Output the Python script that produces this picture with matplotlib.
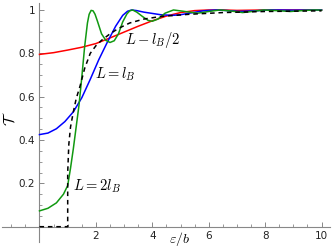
import matplotlib
matplotlib.use("Agg")
import matplotlib.pyplot as plt
from matplotlib.ticker import FixedLocator

plt.rcParams['mathtext.fontset'] = 'cm'

# --- data ---
red_x = [0, 0.5, 1.0, 1.5, 2.0, 2.5, 3.0, 3.5, 4.0, 4.5, 5.0, 5.5, 6.0, 6.5, 7.0, 8.0, 9.0, 10.0]
red_y = [0.795, 0.803, 0.815, 0.828, 0.845, 0.871, 0.898, 0.925, 0.95, 0.972, 0.988, 0.997,
         1.0, 1.0, 0.998, 1.0, 1.0, 1.0]

blue_x = [0, 0.3, 0.6, 0.9, 1.2, 1.5, 1.8, 2.1, 2.4, 2.7, 2.95, 3.12, 3.27, 3.45, 3.7, 3.9,
          4.3, 4.7, 5.0, 5.3, 5.8, 6.26, 6.7, 7.1, 7.6, 8.2, 9.0, 10.0]
blue_y = [0.425, 0.432, 0.452, 0.485, 0.53, 0.595, 0.68, 0.77, 0.85, 0.925, 0.975, 0.994, 1.0,
          0.997, 0.99, 0.986, 0.978, 0.975, 0.978, 0.985, 0.996, 1.0, 0.997, 0.993, 0.996,
          1.0, 0.999, 1.0]

green_x = [0, 0.3, 0.6, 0.85, 1.0, 1.1, 1.2, 1.3, 1.4, 1.5, 1.6, 1.7, 1.76, 1.83, 1.9, 1.97,
           2.05, 2.2, 2.35, 2.5, 2.65, 2.8, 2.95, 3.1, 3.2, 3.3, 3.45, 3.65, 3.85, 4.0, 4.2,
           4.45, 4.75, 5.1, 5.6, 6.0, 6.4, 6.8, 7.2, 7.6, 7.95, 8.4, 8.9, 9.4, 9.8, 10.0]
green_y = [0.073, 0.085, 0.11, 0.15, 0.19, 0.27, 0.36, 0.46, 0.56, 0.69, 0.83, 0.94, 0.98,
           0.998, 0.996, 0.98, 0.95, 0.89, 0.86, 0.85, 0.858, 0.89, 0.945, 0.982, 0.996, 1.0,
           0.99, 0.97, 0.952, 0.948, 0.958, 0.985, 1.0, 0.994, 0.985, 0.993, 1.0, 0.995,
           0.988, 0.994, 1.0, 0.997, 0.993, 0.998, 1.0, 0.999]

dash_x = [0, 1.0, 1.0, 1.04, 1.1, 1.2, 1.3, 1.44, 1.6, 1.8, 2.0, 2.2, 2.5, 2.8, 3.2, 3.7, 4.3,
          5.3, 6.5, 8.0, 10.0]
dash_y = [0, 0, 0.25, 0.38, 0.46, 0.53, 0.59, 0.65, 0.73, 0.80, 0.835, 0.86, 0.89, 0.915, 0.94,
          0.958, 0.97, 0.98, 0.988, 0.993, 0.996]

x_ticks = [2, 4, 6, 8, 10]
y_ticks = [0.2, 0.4, 0.6, 0.8, 1.0]
y_ticklabels = ['0.2', '0.4', '0.6', '0.8', '1']

labels = ['$L-l_B/2$', '$L=l_B$', '$L=2l_B$']

fig = plt.figure(figsize=(3.32, 2.5), dpi=100)
ax = fig.add_axes([0, 0, 1, 1])
ax.set_xlim(-1.40, 10.37)
ax.set_ylim(-0.1075, 1.046)

ax.plot(red_x, red_y, color='#ff0000', lw=1.1, zorder=3)
ax.plot(blue_x, blue_y, color='#0000ff', lw=1.1, zorder=3)
ax.plot(green_x, green_y, color='#119911', lw=1.1, zorder=3)
ax.plot(dash_x, dash_y, color='black', lw=1.1, ls=(0, (3, 2.5)), zorder=4)

axis_col = '#888888'
for s in ['top', 'right']:
    ax.spines[s].set_visible(False)
ax.spines['left'].set_position(('data', 0))
ax.spines['bottom'].set_position(('data', 0))
ax.spines['left'].set_bounds(-0.07, 1.03)
ax.spines['bottom'].set_bounds(-1.33, 10.3)
for s in ['left', 'bottom']:
    ax.spines[s].set_color(axis_col)
    ax.spines[s].set_linewidth(0.8)

ax.xaxis.set_major_locator(FixedLocator(x_ticks))
ax.xaxis.set_minor_locator(FixedLocator([-1, -0.5, 0.5, 1, 1.5, 2.5, 3, 3.5, 4.5, 5, 5.5,
                                          6.5, 7, 7.5, 8.5, 9, 9.5]))
ax.yaxis.set_major_locator(FixedLocator(y_ticks))
ax.yaxis.set_minor_locator(FixedLocator([0.05, 0.1, 0.15, 0.25, 0.3, 0.35, 0.45, 0.5, 0.55,
                                          0.65, 0.7, 0.75, 0.85, 0.9, 0.95]))
ax.set_yticklabels(y_ticklabels)
ax.tick_params(which='both', direction='in', color=axis_col, labelsize=7.5,
               labelcolor='#222222')
ax.tick_params(which='major', length=3.5, width=0.7, pad=3)
ax.tick_params(which='minor', length=2, width=0.6)

ax.text(-1.05, 0.5, r'$\mathcal{T}$', fontsize=11, rotation=90, ha='center', va='center')
ax.text(4.98, -0.055, r'$\varepsilon/b$', fontsize=10, ha='center', va='center')

ax.text(3.03, 0.863, labels[0], fontsize=10.5, ha='left', va='center')
ax.text(1.97, 0.705, labels[1], fontsize=10.5, ha='left', va='center')
ax.text(1.18, 0.188, labels[2], fontsize=10.5, ha='left', va='center')

fig.savefig('out.png', dpi=100)
